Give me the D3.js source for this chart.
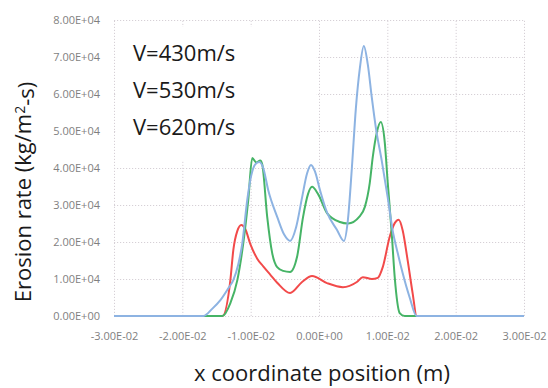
<!DOCTYPE html>
<html>
<head>
<meta charset="utf-8">
<script src="https://cdn.jsdelivr.net/npm/d3@7"></script>
<style>
  body { margin: 0; background: #fff; }
  svg { display: block; font-family: "Open Sans", sans-serif; }
</style>
</head>
<body>
<div id="chart"></div>
<script>
// erosion rate profiles along x, one series per impact velocity

const SERIES_NAMES = ["V=430m/s", "V=530m/s", "V=620m/s"];

// V=620 (blue)
const BLUE_X = [-0.03, -0.01691, -0.01560, -0.01443, -0.01327, -0.01254, -0.01181, -0.01122, -0.01050, -0.00991, -0.00933,
    -0.00875, -0.00816, -0.00743, -0.00612, -0.00510, -0.00423, -0.00335, -0.00248, -0.00175, -0.00117, -0.00058,
    0.00015, 0.00117, 0.00262, 0.00364, 0.00423, 0.00481, 0.00539, 0.00598, 0.00656, 0.00714, 0.00773, 0.00831,
    0.00918, 0.01006, 0.01079, 0.01152, 0.01224, 0.01327, 0.01429, 0.03];
const BLUE_Y = [0, 0, 2000, 4300, 7500, 9700, 14000, 19700, 31400, 38000, 41000,
    41600, 40000, 34000, 26800, 22000, 20300, 24000, 32000, 38500, 40800, 39000,
    34000, 28000, 23300, 20300, 26000, 40000, 56000, 67000, 73000, 68000, 59000, 51000,
    42000, 32000, 23000, 17000, 11600, 5000, 0, 0];

// V=530 (green)
const GREEN_X = [-0.03, -0.01414, -0.01297, -0.01195, -0.01108, -0.01035, -0.00977, -0.00918, -0.00860, -0.00831,
    -0.00758, -0.00685, -0.00612, -0.00525, -0.00423, -0.00321, -0.00233, -0.00160, -0.00102, -0.00015,
    0.00117, 0.00306, 0.00423, 0.00598, 0.00671, 0.00743, 0.00787, 0.00845, 0.00904, 0.00962, 0.01006,
    0.01064, 0.01108, 0.01181, 0.01254, 0.03];
const GREEN_Y = [0, 0, 3500, 9700, 19700, 31400, 42700, 41500, 42000, 41000,
    26800, 17000, 13200, 12200, 11900, 16000, 26800, 33000, 34900, 33000,
    27800, 25400, 25000, 27000, 29500, 36000, 43000, 49500, 52400, 47000, 36000,
    22400, 10500, 800, 0, 0];

// V=430 (red)
const RED_X = [-0.03, -0.01414, -0.01297, -0.01254, -0.01195, -0.01137, -0.01079, -0.01006, -0.00904, -0.00816,
    -0.00714, -0.00612, -0.00423, -0.00248, -0.00102, 0.00117, 0.00350, 0.00554, 0.00641, 0.00773,
    0.00860, 0.00933, 0.01035, 0.01108, 0.01166, 0.01224, 0.01297, 0.01370, 0.01429, 0.03];
const RED_Y = [0, 0, 9700, 17800, 23000, 24600, 23500, 19500, 15500, 13400,
    11200, 9000, 6200, 9200, 10800, 8900, 7800, 9200, 10500, 10000,
    10300, 13200, 21400, 25100, 26000, 23200, 15100, 6200, 0, 0];

const X_TICKS = [-0.03, -0.02, -0.01, 0, 0.01, 0.02, 0.03];
const X_TICK_LABELS = ["-3.00E-02", "-2.00E-02", "-1.00E-02", "0.00E+00", "1.00E-02", "2.00E-02", "3.00E-02"];
const Y_TICKS = [0, 10000, 20000, 30000, 40000, 50000, 60000, 70000, 80000];
const Y_TICK_LABELS = ["0.00E+00", "1.00E+04", "2.00E+04", "3.00E+04", "4.00E+04", "5.00E+04", "6.00E+04", "7.00E+04", "8.00E+04"];

function drawChart() {
    const W = 548, H = 388;
    const margin = { top: 20, right: 24, bottom: 72, left: 114 };
    const width = W - margin.left - margin.right;
    const height = H - margin.top - margin.bottom;

    const svg = d3.select("#chart").append("svg")
        .attr("width", W)
        .attr("height", H);

    const g = svg.append("g")
        .attr("transform", `translate(${margin.left},${margin.top})`);

    const x = d3.scaleLinear().domain([-0.03, 0.03]).range([0, width]);
    const y = d3.scaleLinear().domain([0, 80000]).range([height, 0]);

    const gridColor = "#d6d0d6";

    // dotted grid
    g.append("g")
        .attr("transform", `translate(0,${height})`)
        .call(d3.axisBottom(x).tickValues(X_TICKS).tickSize(-height).tickFormat(""))
        .call(a => a.select(".domain").remove())
        .selectAll("line")
        .attr("stroke", gridColor)
        .attr("stroke-dasharray", "1.2,1.8");

    g.append("g")
        .call(d3.axisLeft(y).tickValues(Y_TICKS).tickSize(-width).tickFormat(""))
        .call(a => a.select(".domain").remove())
        .selectAll("line")
        .attr("stroke", gridColor)
        .attr("stroke-dasharray", "1.2,1.8");

    // tick labels
    g.append("g")
        .attr("transform", `translate(0,${height})`)
        .call(d3.axisBottom(x).tickValues(X_TICKS).tickSize(0).tickPadding(16)
            .tickFormat((d, i) => X_TICK_LABELS[i]))
        .call(a => a.select(".domain").remove())
        .selectAll("text")
        .style("font-family", "Open Sans")
        .style("font-size", "11px")
        .style("fill", "#7f7f7f");

    g.append("g")
        .call(d3.axisLeft(y).tickValues(Y_TICKS).tickSize(0).tickPadding(14)
            .tickFormat((d, i) => Y_TICK_LABELS[i]))
        .call(a => a.select(".domain").remove())
        .selectAll("text")
        .style("font-family", "Open Sans")
        .style("font-size", "11px")
        .style("fill", "#7f7f7f");

    // white box of the text block hides the grid behind it
    g.append("rect")
        .attr("x", 2)
        .attr("y", 7)
        .attr("width", 200)
        .attr("height", 133)
        .attr("fill", "#fff");

    const line = d3.line()
        .x(d => x(d[0]))
        .y(d => y(d[1]))
        .curve(d3.curveMonotoneX);

    // red under green under blue, so the zero baseline shows blue
    const series = [
        { xs: RED_X, ys: RED_Y, color: "#f24a4a" },
        { xs: GREEN_X, ys: GREEN_Y, color: "#46b466" },
        { xs: BLUE_X, ys: BLUE_Y, color: "#8db3e2" }
    ];

    series.forEach(s => {
        g.append("path")
            .datum(s.xs.map((v, i) => [v, s.ys[i]]))
            .attr("fill", "none")
            .attr("stroke", s.color)
            .attr("stroke-width", 2)
            .attr("stroke-linejoin", "round")
            .attr("d", line);
    });

    // text block
    SERIES_NAMES.forEach((name, i) => {
        g.append("text")
            .attr("x", 19)
            .attr("y", 41 + i * 37)
            .style("font-size", "22px")
            .style("fill", "#1a1a1a")
            .text(name);
    });

    // axis titles
    svg.append("text")
        .attr("x", margin.left + width / 2 + 3)
        .attr("y", 381)
        .attr("text-anchor", "middle")
        .style("font-size", "22px")
        .style("fill", "#1a1a1a")
        .text("x coordinate  position (m)");

    const yt = svg.append("text")
        .attr("transform", "translate(31,192) rotate(-90)")
        .attr("text-anchor", "middle")
        .style("font-size", "22px")
        .style("fill", "#1a1a1a");
    yt.append("tspan").text("Erosion rate (kg/m");
    yt.append("tspan").attr("dy", "-0.4em").style("font-size", "14px").text("2");
    yt.append("tspan").attr("dy", "0.4em").text("-s)");
}

drawChart();
</script>
</body>
</html>
